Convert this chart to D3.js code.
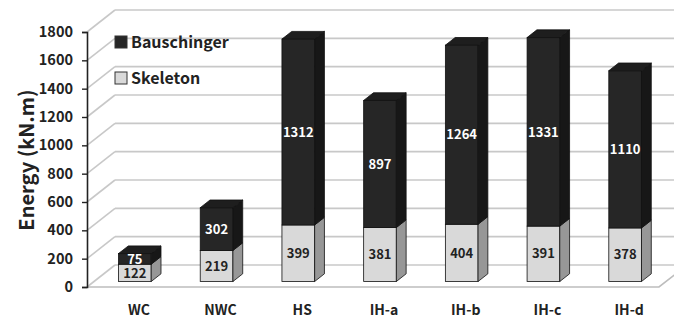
<!DOCTYPE html>
<html>
<head>
<meta charset="utf-8">
<script src="https://cdn.jsdelivr.net/npm/d3@7"></script>
<style>
  html, body { margin: 0; padding: 0; background: #fff; }
  svg { display: block; }
  text { font-family: "Noto Sans CJK KR", "Open Sans", sans-serif; font-weight: 700; }
</style>
</head>
<body>
<svg id="chart" width="674" height="320"></svg>
<script>
// Energy components per specimen
const categories = ["WC", "NWC", "HS", "IH-a", "IH-b", "IH-c", "IH-d"];
const skeleton = [122, 219, 399, 381, 404, 391, 378];
const bauschinger = [75, 302, 1312, 897, 1264, 1331, 1110];
const yTicks = [0, 200, 400, 600, 800, 1000, 1200, 1400, 1600, 1800];
const seriesNames = ["Bauschinger", "Skeleton"];

const W = 674, H = 320;
const svg = d3.select("#chart");

// Oblique projection for the 3D box: depth z in [0,1]
const DX = 28, DY = 22;
const P = (x, y, z) => [x + z * DX, y - z * DY];

const x = d3.scaleBand().domain(categories).range([87, 659]).paddingInner(0.6).paddingOuter(0.3);
const y = d3.scaleLinear().domain([0, 1800]).range([287, 32]);

const gridColor = "#c8c8c8";
const grid = svg.append("g");

// back wall and side wall gridlines
yTicks.forEach(t => {
  const a = P(87, y(t), 0), b = P(87, y(t), 1);
  grid.append("line").attr("x1", a[0]).attr("y1", a[1]).attr("x2", b[0]).attr("y2", b[1])
    .attr("stroke", gridColor).attr("stroke-width", 1.6);
  grid.append("line").attr("x1", b[0]).attr("y1", b[1]).attr("x2", W + 20).attr("y2", b[1])
    .attr("stroke", gridColor).attr("stroke-width", 1.6);
});

// floor edges
const f0 = P(87, y(0), 0), f1 = P(659, y(0), 0), f2 = P(659, y(0), 1);
grid.append("polyline")
  .attr("points", [f0, f1, f2].map(p => p.join(",")).join(" "))
  .attr("fill", "none").attr("stroke", "#bdbdbd").attr("stroke-width", 1.6);

// y axis
const axisG = svg.append("g").attr("transform", "translate(87,0)")
  .call(d3.axisLeft(y).tickValues(yTicks).tickSize(5).tickPadding(9).tickFormat(d3.format("d")));
axisG.select(".domain").attr("stroke", "#222").attr("stroke-width", 1.6);
axisG.selectAll(".tick line").attr("stroke", "#222").attr("stroke-width", 1.4);
axisG.selectAll(".tick text").attr("font-size", 14.5).attr("fill", "#222")
  .style("font-family", "'Noto Sans CJK KR', 'Open Sans', sans-serif").style("font-weight", 700);

// y axis title
svg.append("text")
  .attr("transform", "translate(27,160) rotate(-90)")
  .attr("text-anchor", "middle")
  .attr("dy", "0.35em")
  .attr("font-size", 20).attr("fill", "#222")
  .text("Energy (kN.m)");

// bars
const zf = 0.25, zb = 0.6;
const bw = x.bandwidth();
const styles = {
  Skeleton: { front: "#d9d9d9", side: "#979797", top: "#c4c4c4", label: "#222" },
  Bauschinger: { front: "#262626", side: "#171717", top: "#1e1e1e", label: "#fff" }
};

const bars = svg.append("g");
const poly = pts => pts.map(p => p.join(",")).join(" ");

categories.forEach((c, i) => {
  const segs = [
    { name: "Skeleton", v0: 0, v1: skeleton[i], v: skeleton[i] },
    { name: "Bauschinger", v0: skeleton[i], v1: skeleton[i] + bauschinger[i], v: bauschinger[i] }
  ];
  const x0 = x(c), x1 = x(c) + bw;
  segs.forEach((s, k) => {
    const st = styles[s.name];
    const yb = y(s.v0), yt = y(s.v1);
    const g = bars.append("g");
    // front face
    const a = P(x0, yt, zf), b = P(x1, yb, zf);
    g.append("rect").attr("x", a[0]).attr("y", a[1]).attr("width", b[0] - a[0]).attr("height", b[1] - a[1])
      .attr("fill", st.front).attr("stroke", "#111").attr("stroke-width", 0.8);
    // right side face
    g.append("polygon")
      .attr("points", poly([P(x1, yt, zf), P(x1, yt, zb), P(x1, yb, zb), P(x1, yb, zf)]))
      .attr("fill", st.side).attr("stroke", "#111").attr("stroke-width", 0.8);
    // top face
    if (k === segs.length - 1) {
      g.append("polygon")
        .attr("points", poly([P(x0, yt, zf), P(x1, yt, zf), P(x1, yt, zb), P(x0, yt, zb)]))
        .attr("fill", st.top).attr("stroke", "#111").attr("stroke-width", 0.8);
    }
    // value label
    const m = P((x0 + x1) / 2, (yt + yb) / 2, zf);
    g.append("text").attr("x", m[0]).attr("y", m[1]).attr("dy", "0.36em")
      .attr("text-anchor", "middle").attr("font-size", 13).attr("fill", st.label)
      .text(s.v);
  });
});

// category labels
svg.append("g").selectAll("text").data(categories).join("text")
  .attr("x", d => x(d) + bw / 2 + 11)
  .attr("y", 315)
  .attr("text-anchor", "middle").attr("font-size", 14).attr("fill", "#222")
  .text(d => d);

// legend
const legend = svg.append("g");
seriesNames.forEach((n, i) => {
  const ly = 42 + i * 36;
  legend.append("rect").attr("x", 115).attr("y", ly - 6).attr("width", 12).attr("height", 12)
    .attr("fill", styles[n].front).attr("stroke", "#333").attr("stroke-width", 1);
  legend.append("text").attr("x", 131).attr("y", ly).attr("dy", "0.36em")
    .attr("font-size", 16).attr("fill", "#222").text(n);
});
</script>
</body>
</html>
